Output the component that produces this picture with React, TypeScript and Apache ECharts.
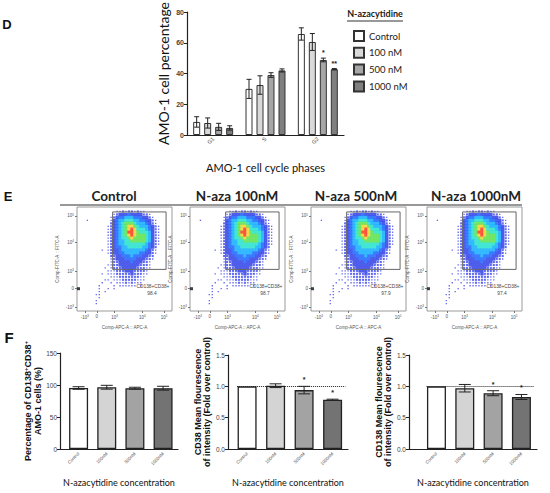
import React, { useEffect, useRef } from 'react';
import * as echarts from 'echarts';

// ---------- Panel D : cell cycle ----------
const phases = ['G1', 'S', 'G2'];
const doseNames = ['Control', '100 nM', '500 nM', '1000 nM'];
const cycleControl = [8.5, 30.0, 65.7];
const cycle100 = [7.8, 32.5, 60.5];
const cycle500 = [5.3, 39.0, 48.8];
const cycle1000 = [4.6, 42.0, 42.8];
const cycleControlErr = [3.4, 6.2, 4.0];
const cycle100Err = [3.3, 6.0, 5.5];
const cycle500Err = [2.3, 1.5, 1.2];
const cycle1000Err = [1.4, 1.0, 0.4];
const cycleSig500 = ['', '', '*'];
const cycleSig1000 = ['', '', '**'];

// ---------- Panel E : flow cytometry ----------
const fcsTitles = ['Control', 'N-aza 100nM', 'N-aza 500nM', 'N-aza 1000nM'];
const gatePercent = ['98.4', '98.7', '97.9', '97.4'];
const gateName = 'CD138+CD38+';
const flowTickPosX = [8, 20, 38, 66, 88];
const flowTickPosY = [4, 23, 40, 69, 96];
const flowTickText = ['-10{s|3}', '0', '10{s|3}', '10{s|4}', '10{s|5}'];
const gateBoxX = [36, 90, 90, 36, 36];
const gateBoxY = [42, 42, 100, 100, 42];
// density level per 3x3 cell, top row first ('.' = no events, 1..9 = increasing density, k = axis pile-up)
const densityRows = [
  '................................',
  '.............1121221211',
  '............1233343333221',
  '...........123445554443321',
  '...1.......1345566655443321',
  '...........2345677765554321',
  '..........123456788765554321',
  '..........123456789866654321',
  '..........123456799876665321',
  '..........123456789877765321',
  '..........123456678777765321',
  '..........123455667777765321',
  '..........123455666666654321',
  '..........12344556666655432',
  '........1.12334555555554321',
  '..........12334455555443321',
  '...........223344454443322',
  '...........123334444333221',
  '...........12233334333221',
  '..........112233333332221',
  '.........1.12223333322211',
  '..........11122233322221',
  '........1.11122222322211',
  '...........111222222211',
  '.........11.11122222111',
  '........1..1.111212111',
  '.......1....1.111111.1',
  'k......1..1.1',
  '.......1.1',
  '......11',
  '.......1',
  '......1',
  '......1',
  '',
  '',
];

// ---------- Panel F ----------
const concLabels = ['Control', '100nM', '500nM', '1000nM'];
const dpPercent = [95.3, 96.5, 95.0, 95.0];
const dpPercentErr = [2.0, 3.0, 1.5, 3.0];
const cd38Fold = [1.0, 1.01, 0.94, 0.785];
const cd38FoldErr = [0, 0.03, 0.06, 0.01];
const cd38Sig = ['', '', '*', '*'];
const cd138Fold = [1.0, 0.97, 0.89, 0.83];
const cd138FoldErr = [0, 0.06, 0.04, 0.04];
const cd138Sig = ['', '', '*', '*'];
const refLevel = 1.0;

const barColorsD = ['#ffffff', '#d9d9d9', '#a6a6a6', '#7f7f7f'];
const barColorsF = ['#ffffff', '#d4d4d4', '#a3a3a3', '#737373'];
const densityPalette: Record<string, [string, number]> = {
  '1': ['#3a40e8', 1.3],
  '2': ['#3a46ee', 2.1],
  '3': ['#2233e6', 3.3],
  '4': ['#0a58ff', 3.3],
  '5': ['#00a8ff', 3.3],
  '6': ['#14e0c8', 3.3],
  '7': ['#50e040', 3.3],
  '8': ['#f0d020', 3.3],
  '9': ['#ff2a10', 3.3],
  k: ['#111111', 3],
};

const FC = 'Lato, "Open Sans", sans-serif';
const FA = '"Liberation Sans", Arial, sans-serif';

function errSeries(xi: number, means: number[], errs: number[], sigs: string[], offset: number, cap: number, sigGap: number) {
  return {
    type: 'custom',
    xAxisIndex: xi,
    yAxisIndex: xi,
    z: 6,
    silent: true,
    data: means.map((m, i) => [i, m, errs[i]]),
    renderItem: (params: any, api: any) => {
      const i = api.value(0);
      const m = api.value(1);
      const e = api.value(2);
      const hi = api.coord([i, m + e]);
      const lo = api.coord([i, m - e]);
      const x = hi[0] + offset;
      const st = { stroke: '#222', lineWidth: 1 };
      const children: any[] = [];
      if (e > 0) {
        children.push({ type: 'line', shape: { x1: x, y1: hi[1], x2: x, y2: lo[1] }, style: st });
        children.push({ type: 'line', shape: { x1: x - cap / 2, y1: hi[1], x2: x + cap / 2, y2: hi[1] }, style: st });
        children.push({ type: 'line', shape: { x1: x - cap / 2, y1: lo[1], x2: x + cap / 2, y2: lo[1] }, style: st });
      }
      const s = sigs[params.dataIndex];
      if (s) {
        children.push({
          type: 'text', x, y: hi[1] - sigGap,
          style: { text: s, fill: '#222', fontSize: 7, fontWeight: 'bold', fontFamily: FA, align: 'center', verticalAlign: 'bottom' },
        });
      }
      return { type: 'group', children };
    },
  };
}

function densityData() {
  const n = densityRows.length;
  const out: any[] = [];
  densityRows.forEach((row, r) => {
    const ri = n - 1 - r;
    for (let c = 0; c < row.length; c++) {
      const ch = row[c];
      if (ch === '.') continue;
      const [color, size] = densityPalette[ch];
      out.push({ value: [c * 3 + 1.5, ri * 3 + 1.5], symbolSize: size, itemStyle: { color } });
    }
  });
  return out;
}

export default function App() {
  const ref = useRef<HTMLDivElement>(null);
  useEffect(() => {
    if (!ref.current) return;
    const chart = echarts.init(ref.current, undefined, { renderer: 'svg' });

    const grids: any[] = [];
    const xAxes: any[] = [];
    const yAxes: any[] = [];
    const series: any[] = [];
    const graphics: any[] = [];

    const axisLineDark = { show: true, onZero: false, lineStyle: { color: '#222', width: 1.2 } };

    // ----- D -----
    grids.push({ left: 187, top: 12, width: 157, height: 123 });
    xAxes.push({
      type: 'category', gridIndex: 0, data: phases,
      axisLine: axisLineDark, axisTick: { show: false },
      axisLabel: { rotate: 45, fontSize: 5.5, color: '#444', margin: 3, fontFamily: FA },
      name: 'AMO-1 cell cycle phases', nameLocation: 'middle', nameGap: 27,
      nameTextStyle: { fontSize: 11, color: '#111', fontFamily: FC },
    });
    yAxes.push({
      type: 'value', gridIndex: 0, min: 0, max: 80, interval: 20,
      axisLine: axisLineDark, axisTick: { show: true, length: 3, lineStyle: { color: '#222' } },
      splitLine: { show: false },
      axisLabel: { fontSize: 7, fontWeight: 'bold', color: '#444', margin: 3, fontFamily: FA },
      name: 'AMO-1 cell percentage', nameLocation: 'middle', nameGap: 17,
      nameTextStyle: { fontSize: 14, color: '#111', fontFamily: FC },
    });
    const cycleMeans = [cycleControl, cycle100, cycle500, cycle1000];
    const cycleErrs = [cycleControlErr, cycle100Err, cycle500Err, cycle1000Err];
    const cycleSigs = [['', '', ''], ['', '', ''], cycleSig500, cycleSig1000];
    cycleMeans.forEach((vals, k) => {
      series.push({
        type: 'bar', name: doseNames[k], xAxisIndex: 0, yAxisIndex: 0,
        data: vals, barWidth: 7, barGap: '57%',
        itemStyle: { color: barColorsD[k], borderColor: '#333', borderWidth: 1 },
        silent: true,
      });
    });
    cycleMeans.forEach((vals, k) => {
      series.push(errSeries(0, vals, cycleErrs[k], cycleSigs[k], (k - 1.5) * 11, 5, 2));
    });
    graphics.push({ type: 'text', x: 7, y: 24, style: { text: 'D', fontSize: 13, fontWeight: 'bold', fill: '#111', fontFamily: FA, align: 'center', verticalAlign: 'middle' } });
    graphics.push({ type: 'text', x: 375, y: 13, style: { text: 'N-azacytidine', fontSize: 9, fontWeight: 'bold', fill: '#222', fontFamily: FC, align: 'center', verticalAlign: 'middle' } });
    graphics.push({ type: 'line', shape: { x1: 347, y1: 21, x2: 403, y2: 21 }, style: { stroke: '#333', lineWidth: 1 } });

    // ----- E -----
    const flowLefts = [77, 190, 311, 427];
    const dens = densityData();
    flowLefts.forEach((left, p) => {
      const gi = grids.length;
      grids.push({ left, top: 207, width: 95, height: 104, show: true, borderColor: '#9a9a9a', borderWidth: 1, backgroundColor: 'transparent' });
      const lbl = {
        fontSize: 4.5, color: '#555', fontFamily: FA,
        rich: { s: { fontSize: 3, color: '#555', fontFamily: FA, verticalAlign: 'top', padding: [0, 0, 3, 0] } },
      };
      xAxes.push({
        type: 'value', gridIndex: gi, min: 0, max: 96,
        axisLine: { show: false }, splitLine: { show: false },
        axisTick: { show: true, length: 2, customValues: flowTickPosX, lineStyle: { color: '#777' } },
        axisLabel: { ...lbl, margin: 3, customValues: flowTickPosX, formatter: (v: number) => flowTickText[flowTickPosX.indexOf(v)] },
        name: 'Comp-APC-A :: APC-A', nameLocation: 'middle', nameGap: 14,
        nameTextStyle: { fontSize: 4.5, color: '#555', fontFamily: FA },
      });
      yAxes.push({
        type: 'value', gridIndex: gi, min: 0, max: 105,
        axisLine: { show: false }, splitLine: { show: false },
        axisTick: { show: true, length: 2, customValues: flowTickPosY, lineStyle: { color: '#777' } },
        axisLabel: { ...lbl, margin: 3, customValues: flowTickPosY, formatter: (v: number) => flowTickText[flowTickPosY.indexOf(v)] },
        name: 'Comp-FITC-A :: FITC-A', nameLocation: 'middle', nameGap: 17,
        nameTextStyle: { fontSize: 4.5, color: '#555', fontFamily: FA },
      });
      series.push({
        type: 'scatter', name: 'density' + p, xAxisIndex: gi, yAxisIndex: gi,
        symbol: 'rect', data: dens, silent: true, z: 2,
      });
      series.push({
        type: 'line', name: 'gate' + p, xAxisIndex: gi, yAxisIndex: gi,
        data: gateBoxX.map((x, i) => [x, gateBoxY[i]]), symbol: 'none', silent: true, z: 3,
        lineStyle: { color: '#666', width: 1 },
      });
      graphics.push({ type: 'text', x: left + 76, y: 286, style: { text: gateName, fontSize: 4.8, fill: '#444', fontFamily: FA, align: 'center', verticalAlign: 'middle' } });
      graphics.push({ type: 'text', x: left + 75, y: 293, style: { text: gatePercent[p], fontSize: 4.8, fill: '#444', fontFamily: FA, align: 'center', verticalAlign: 'middle' } });
    });
    const headerX = [114, 237, 356, 476];
    fcsTitles.forEach((t, i) => {
      graphics.push({ type: 'text', x: headerX[i], y: 196, style: { text: t, fontSize: 13.5, fontWeight: 'bold', fill: '#222', fontFamily: FC, align: 'center', verticalAlign: 'middle' } });
    });
    graphics.push({ type: 'line', shape: { x1: 60, y1: 205, x2: 522, y2: 205 }, style: { stroke: '#333', lineWidth: 1.2 } });
    graphics.push({ type: 'text', x: 8, y: 196, style: { text: 'E', fontSize: 13, fontWeight: 'bold', fill: '#111', fontFamily: FA, align: 'center', verticalAlign: 'middle' } });

    // ----- F -----
    graphics.push({ type: 'text', x: 9, y: 337, style: { text: 'F', fontSize: 15, fontWeight: 'bold', fill: '#111', fontFamily: FA, align: 'center', verticalAlign: 'middle' } });
    const fCharts = [
      { left: 60, top: 353, width: 118, height: 96, xmin: -0.66, xmax: 3.53, ymax: 150, yint: 50, dec: 0,
        means: dpPercent, errs: dpPercentErr, sigs: ['', '', '', ''], ref: false, nameGap: 15,
        yname: 'Percentage of CD138{p|+}CD38{p|+}\nAMO-1 cells (%)' },
      { left: 228, top: 355, width: 120, height: 94, xmin: -0.67, xmax: 3.54, ymax: 1.5, yint: 0.5, dec: 1,
        means: cd38Fold, errs: cd38FoldErr, sigs: cd38Sig, ref: true, nameGap: 9,
        yname: 'CD38 Mean flourescence\nof intensity (Fold over control)' },
      { left: 409, top: 355, width: 128, height: 94, xmin: -0.97, xmax: 3.55, ymax: 1.5, yint: 0.5, dec: 1,
        means: cd138Fold, errs: cd138FoldErr, sigs: cd138Sig, ref: true, nameGap: 9,
        yname: 'CD138 Mean flourescence\nof intensity (Fold over control)' },
    ];
    const idx = [0, 1, 2, 3];
    fCharts.forEach((fc, j) => {
      const gi = grids.length;
      grids.push({ left: fc.left, top: fc.top, width: fc.width, height: fc.height });
      xAxes.push({
        type: 'value', gridIndex: gi, min: fc.xmin, max: fc.xmax,
        axisLine: axisLineDark, axisTick: { show: false }, splitLine: { show: false },
        axisLabel: { customValues: idx, formatter: (v: number) => concLabels[v], rotate: 45, fontSize: 4.5, color: '#555', margin: 4, fontFamily: FA },
        name: 'N-azacytidine concentration', nameLocation: 'middle', nameGap: 29,
        nameTextStyle: { fontSize: 9, color: '#111', fontFamily: FC },
      });
      yAxes.push({
        type: 'value', gridIndex: gi, min: 0, max: fc.ymax, interval: fc.yint,
        axisLine: axisLineDark, axisTick: { show: true, length: 3, lineStyle: { color: '#222' } },
        splitLine: { show: false },
        axisLabel: { fontSize: 6.5, color: '#444', margin: 3, fontFamily: FA, formatter: (v: number) => v.toFixed(fc.dec) },
        name: fc.yname, nameLocation: 'middle', nameGap: fc.nameGap,
        nameTextStyle: {
          fontSize: 9, fontWeight: 'bold', color: '#111', fontFamily: FA, lineHeight: 9.5,
          rich: { p: { fontSize: 6, fontWeight: 'bold', color: '#111', fontFamily: FA, verticalAlign: 'top', lineHeight: 9.5 } },
        },
      });
      series.push({
        type: 'bar', name: 'f' + j, xAxisIndex: gi, yAxisIndex: gi, barWidth: 19, silent: true,
        data: fc.means.map((m, i) => ({ value: [i, m], itemStyle: { color: barColorsF[i], borderColor: '#222', borderWidth: 1.3 } })),
        markLine: fc.ref ? {
          silent: true, symbol: 'none', label: { show: false },
          lineStyle: { type: 'dotted', color: '#222', width: 1 },
          data: [[{ coord: [-0.35, refLevel] }, { coord: [3.45, refLevel] }]],
        } : undefined,
      });
      series.push(errSeries(gi, fc.means, fc.errs, fc.sigs, 0, 12, 3));
    });

    chart.setOption({
      animation: false,
      backgroundColor: '#ffffff',
      textStyle: { fontFamily: FA },
      grid: grids,
      xAxis: xAxes,
      yAxis: yAxes,
      legend: {
        data: doseNames, orient: 'vertical', left: 353, top: 30, padding: 0, itemWidth: 10, itemHeight: 10, itemGap: 4.8,
        selectedMode: false, icon: 'rect',
        textStyle: { fontFamily: FC, fontSize: 9.5, color: '#222' },
      },
      series,
      graphic: graphics,
    });
    return () => chart.dispose();
  }, []);
  return <div ref={ref} style={{ position: 'absolute', left: 0, top: 0, width: 550, height: 493, background: '#fff' }} />;
}
